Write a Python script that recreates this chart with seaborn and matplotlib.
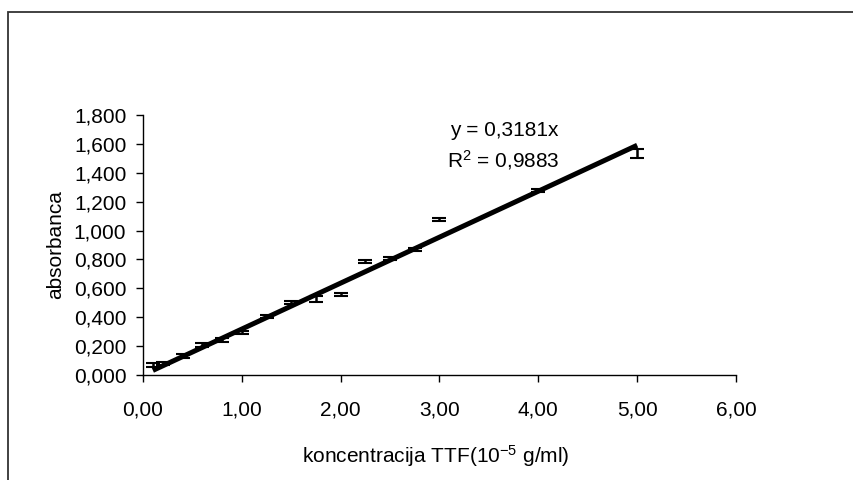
import matplotlib
matplotlib.use("Agg")
import matplotlib.pyplot as plt
import matplotlib.ticker as mticker
from matplotlib.patches import Rectangle
import pandas as pd
import seaborn as sns

# Calibration data: TTF concentration (10^-5 g/ml) vs. absorbance
conc = [0.1, 0.2, 0.4, 0.6, 0.8, 1.0, 1.25, 1.5, 1.75, 2.0, 2.25, 2.5, 2.75, 3.0, 4.0, 5.0]
absorb = [0.069, 0.082, 0.131, 0.207, 0.242, 0.295, 0.404, 0.500, 0.525, 0.557,
          0.785, 0.808, 0.868, 1.076, 1.279, 1.535]
err = [0.012, 0.011, 0.011, 0.012, 0.012, 0.012, 0.010, 0.010, 0.023, 0.012,
       0.011, 0.011, 0.011, 0.011, 0.010, 0.031]

slope = 0.3181
r_squared = 0.9883

x_ticks = [0, 1, 2, 3, 4, 5, 6]
y_ticks = [0.0, 0.2, 0.4, 0.6, 0.8, 1.0, 1.2, 1.4, 1.6, 1.8]

FS = 15

sns.set_theme(style="white")
plt.rcParams["font.family"] = ["Liberation Sans", "DejaVu Sans"]
plt.rcParams["mathtext.fontset"] = "custom"
plt.rcParams["mathtext.rm"] = "Liberation Sans"
plt.rcParams["mathtext.it"] = "Liberation Sans"

df = pd.DataFrame({"conc": conc, "absorb": absorb, "err": err})
fit = pd.DataFrame({"conc": [min(conc), max(conc)]})
fit["absorb"] = slope * fit["conc"]

fig = plt.figure(figsize=(8.54, 4.8), dpi=100)
ax = fig.add_axes([143 / 854, 1 - 375 / 480, (736 - 143) / 854, (375 - 115) / 480])

# error bars only (no markers)
ax.errorbar(df["conc"], df["absorb"], yerr=df["err"], fmt="none",
            ecolor="black", elinewidth=1.8, capsize=4.7, capthick=1.5, zorder=2)

# linear trend through origin
sns.lineplot(data=fit, x="conc", y="absorb", ax=ax, color="black",
             linewidth=3.6, zorder=3, solid_capstyle="butt")

ax.set_xlim(0, 6)
ax.set_ylim(0, 1.8)
ax.set_xticks(x_ticks)
ax.set_yticks(y_ticks)
ax.xaxis.set_major_formatter(mticker.FuncFormatter(lambda v, p: f"{v:.2f}".replace(".", ",")))
ax.yaxis.set_major_formatter(mticker.FuncFormatter(lambda v, p: f"{v:.3f}".replace(".", ",")))

for s in ["top", "right"]:
    ax.spines[s].set_visible(False)
for s in ["left", "bottom"]:
    ax.spines[s].set_color("black")
    ax.spines[s].set_linewidth(1.0)

ax.tick_params(axis="both", which="major", direction="out", length=5, width=1.0,
               color="black", labelsize=FS, labelcolor="black",
               bottom=True, left=True)
ax.tick_params(axis="x", pad=13)
ax.tick_params(axis="y", pad=7)

ax.set_xlabel("koncentracija TTF(10$^{-5}$ g/ml)", fontsize=FS, color="black")
ax.set_ylabel("absorbanca", fontsize=FS, color="black")
ax.xaxis.label.set_va("center")
ax.yaxis.label.set_va("center")
ax.xaxis.set_label_coords(0.494, -0.31)
ax.yaxis.set_label_coords(-0.147, 0.5)

ax.text(0.700, 0.942, "y = 0,3181x", transform=ax.transAxes, ha="right",
        va="center", fontsize=FS, color="black")
ax.text(0.702, 0.827, "R$^2$ = 0,9883", transform=ax.transAxes, ha="right",
        va="center", fontsize=FS, color="black")

# chart area frame
fig.patches.append(Rectangle((8 / 854, -0.05), 1.2, 1 - 12 / 480 + 0.05,
                             transform=fig.transFigure, fill=False,
                             edgecolor="#333333", linewidth=1.3))

fig.savefig("out.png", dpi=100, facecolor="white")
